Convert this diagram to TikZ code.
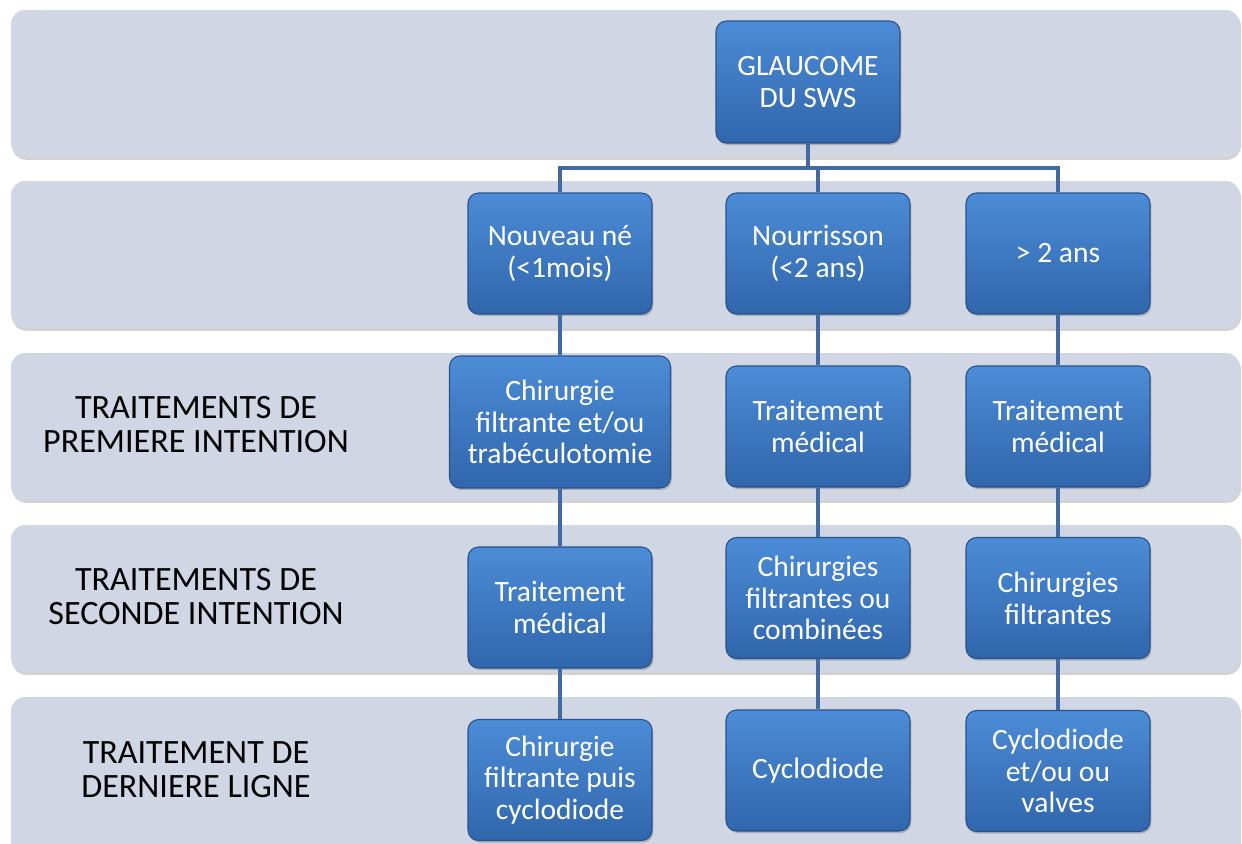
\documentclass[tikz,border=0pt]{standalone}
\usepackage{fontspec}
\setmainfont{Carlito}
\usepackage{tikz}
\usetikzlibrary{shadows}
\definecolor{band}{RGB}{208,214,228}
\definecolor{boxtop}{RGB}{76,140,214}
\definecolor{boxbot}{RGB}{48,102,172}
\definecolor{boxrim}{RGB}{40,82,140}
\definecolor{link}{RGB}{66,106,160}
\tikzset{
  bandbox/.style={fill=band,rounded corners=8pt,
    drop shadow={shadow xshift=0.6pt,shadow yshift=-1.6pt,opacity=0.35}},
  stepnode/.style={draw=boxrim,line width=0.6pt,top color=boxtop,bottom color=boxbot,
    rounded corners=6pt,text=white,align=center,minimum width=184*0.02cm,
    minimum height=121*0.02cm,font=\fontsize{16.8}{18.1}\selectfont,
    drop shadow={shadow xshift=0.8pt,shadow yshift=-1.2pt,opacity=0.45}},
  rowlabel/.style={align=center,font=\fontsize{19.4}{19.3}\selectfont},
  linkline/.style={link,line width=2.6pt}
}
\begin{document}
\begin{tikzpicture}[x=0.02cm,y=-0.02cm]
  \useasboundingbox (0,0) rectangle (1242,843);
  \foreach \t/\h in {10/147,181/147,353/147,525/147,697/170}
    \fill[bandbox] (11,\t) rectangle (1240,\t+\h);

  \node[rowlabel] (l1) at (196,425) {TRAITEMENTS DE\\PREMIERE INTENTION};
  \node[rowlabel] (l2) at (196,597) {TRAITEMENTS DE\\SECONDE INTENTION};
  \node[rowlabel] (l3) at (196,770) {TRAITEMENT DE\\DERNIERE LIGNE};

  \node[stepnode,minimum height=122*0.02cm] (top) at (808,82) {GLAUCOME\\DU SWS};
  \node[stepnode] (n1) at (560,253.5) {Nouveau né\\(<1mois)};
  \node[stepnode] (n2) at (818,253.5) {Nourrisson\\(<2 ans)};
  \node[stepnode] (n3) at (1058,253.5) {> 2 ans};
  \node[stepnode,minimum width=221*0.02cm,minimum height=132*0.02cm] (c1) at (560,422)
    {Chirurgie\\filtrante et/ou\\trabéculotomie};
  \node[stepnode] (c2) at (818,426.5) {Traitement\\médical};
  \node[stepnode] (c3) at (1058,426.5) {Traitement\\médical};
  \node[stepnode] (s1) at (560,607.5) {Traitement\\médical};
  \node[stepnode] (s2) at (818,598) {Chirurgies\\filtrantes ou\\combinées};
  \node[stepnode] (s3) at (1058,598) {Chirurgies\\filtrantes};
  \node[stepnode] (d1) at (560,780) {Chirurgie\\filtrante puis\\cyclodiode};
  \node[stepnode] (d2) at (818,770.5) {Cyclodiode};
  \node[stepnode] (d3) at (1058,771) {Cyclodiode\\et/ou ou\\valves};

  \coordinate (bus) at (808,168);
  \draw[linkline] (top.south) -- (bus);
  \draw[linkline] (n1.north) -- (n1.north |- bus) -- (n3.north |- bus) -- (n3.north);
  \draw[linkline] (n2.north) -- (n2.north |- bus);
  \foreach \a/\b in {n1/c1,c1/s1,s1/d1,n2/c2,c2/s2,s2/d2,n3/c3,c3/s3,s3/d3}
    \draw[linkline] (\a.south) -- (\b.north);
\end{tikzpicture}
\end{document}
